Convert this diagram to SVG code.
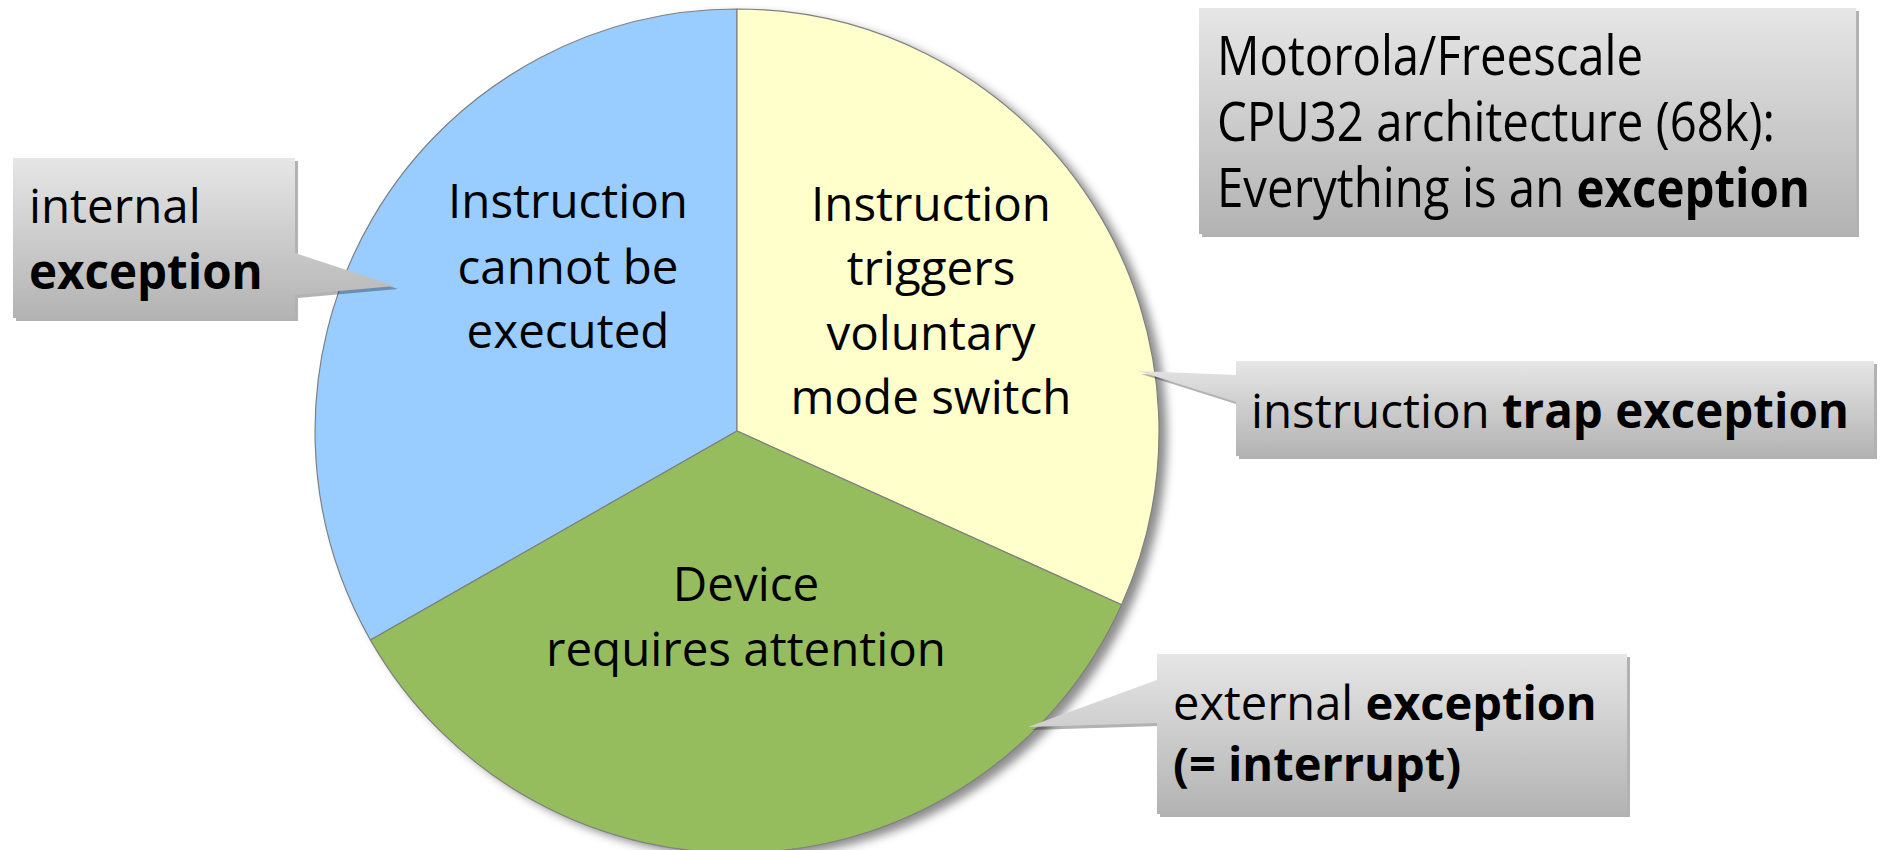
<svg xmlns="http://www.w3.org/2000/svg" width="1883" height="850" viewBox="0 0 1883 850">
<style>
text{font-family:"Open Sans","Noto Sans","DejaVu Sans",sans-serif;fill:#000;}
.t47{font-size:47px;}
.t475{font-size:47.5px;}
.pie{text-anchor:middle;font-size:47.5px;}
.b{font-weight:bold;}
.slice{stroke:#808080;stroke-width:1.2;stroke-linejoin:round;}
.box{fill:url(#gray);}
.shadow{fill:#000;fill-opacity:0.3;}
.note{font-size:54px;}
</style>
<defs>
<linearGradient id="gray" x1="0" y1="0" x2="0" y2="1">
<stop offset="0" stop-color="#e6e6e6"/>
<stop offset="1" stop-color="#b3b3b3"/>
</linearGradient>
<filter id="pieShadow" x="-10%" y="-10%" width="125%" height="125%">
<feGaussianBlur in="SourceAlpha" stdDeviation="5"/>
<feOffset dx="8" dy="5" result="o"/>
<feFlood flood-color="#000" flood-opacity="0.45"/>
<feComposite in2="o" operator="in"/>
</filter>
</defs>

<g id="pie">
<circle cx="737" cy="431" r="422" fill="#000" filter="url(#pieShadow)"/>
<g id="slice-internal">
<path class="slice" fill="#99ccff" d="M737,431 L737,9 A422,422 0 0,0 370.5,640.1 Z"/>
<text class="pie" x="568" y="218">Instruction</text>
<text class="pie" x="568" y="284">cannot be</text>
<text class="pie" x="568" y="348">executed</text>
</g>
<g id="slice-trap">
<path class="slice" fill="#ffffcc" d="M737,431 L737,9 A422,422 0 0,1 1121.6,604.7 Z"/>
<text class="pie" x="931" y="221">Instruction</text>
<text class="pie" x="931" y="285">triggers</text>
<text class="pie" x="931" y="350">voluntary</text>
<text class="pie" x="931" y="414">mode switch</text>
</g>
<g id="slice-device">
<path class="slice" fill="#95bd5e" d="M737,431 L1121.6,604.7 A422,422 0 0,1 370.5,640.1 Z"/>
<text class="pie" x="746" y="601">Device</text>
<text class="pie" x="746" y="666">requires attention</text>
</g>
</g>

<g id="callout-internal">
<path class="shadow" transform="translate(3,3)" d="M13,158 H295 V253 L395,286 L295,295 V318 H13 Z"/>
<path class="box" d="M13,158 H295 V253 L395,286 L295,295 V318 H13 Z"/>
<text class="t475" x="29" y="223">internal</text>
<text class="t475 b" x="29" y="289">exception</text>
</g>

<g id="note-cpu32">
<rect class="shadow" x="1202" y="11" width="657" height="226"/>
<rect class="box" x="1199" y="8" width="657" height="226"/>
<text class="note" x="1217" y="75" textLength="426" lengthAdjust="spacingAndGlyphs">Motorola/Freescale</text>
<text class="note" x="1217" y="141" textLength="558" lengthAdjust="spacingAndGlyphs">CPU32 architecture (68k):</text>
<text class="note" x="1217" y="207" textLength="593" lengthAdjust="spacingAndGlyphs">Everything is an <tspan class="b">exception</tspan></text>
</g>

<g id="callout-trap">
<path class="shadow" transform="translate(3,3)" d="M1236,361 H1874 V456 H1236 V402 L1138,371 L1236,375 Z"/>
<path class="box" d="M1236,361 H1874 V456 H1236 V402 L1138,371 L1236,375 Z"/>
<text class="t475" x="1251" y="428">instruction <tspan class="b">trap exception</tspan></text>
</g>

<g id="callout-external">
<path class="shadow" transform="translate(3,3)" d="M1157,654 H1627 V814 H1157 V723 L1028,727 L1157,680 Z"/>
<path class="box" d="M1157,654 H1627 V814 H1157 V723 L1028,727 L1157,680 Z"/>
<text class="t47" x="1173" y="720">external <tspan class="b">exception</tspan></text>
<text class="t47 b" x="1173" y="781">(= interrupt)</text>
</g>

<g id="connectors"></g>
</svg>
